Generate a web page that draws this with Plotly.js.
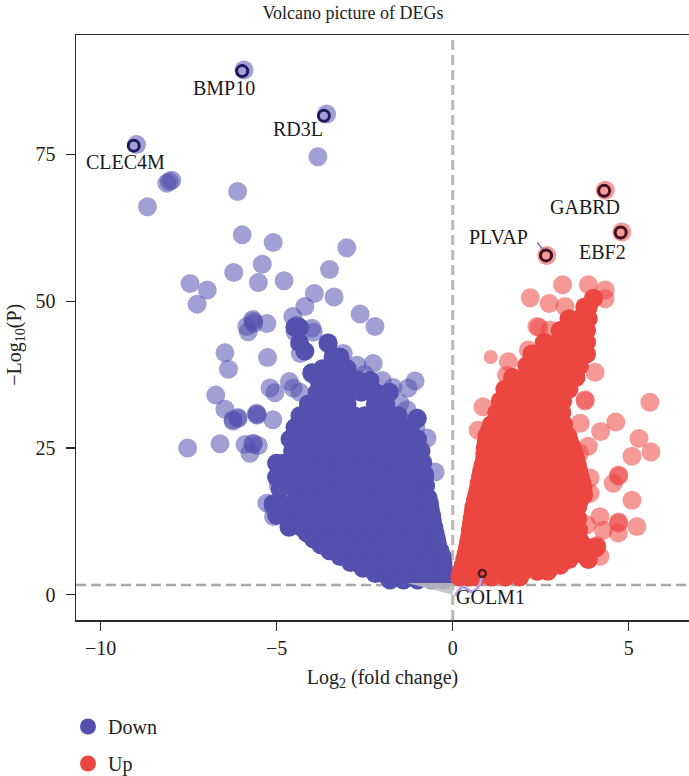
<!DOCTYPE html>
<html>
<head>
<meta charset="utf-8">
<script src="https://cdn.plot.ly/plotly-3.0.1.min.js"></script>
<style>html,body{margin:0;padding:0;background:#fff}#chart{width:689px;height:776px}</style>
</head>
<body>
<div id="chart"></div>
<script>
// Scattered, individually readable genes (log2 FC, -log10 P)
const downX = [-5.93,-3.58,-8.98,-3.83,-7.98,-8.12,-8.05,-8.67,-6.11,-5.98,-5.1,-3.01,-5.41,-6.22,-5.52,-4.79,-3.5,-7.46,-6.97,-7.26,-3.93,-3.37,-4.2,-2.63,-2.21,-4.54,-5.68,-5.28,-5.85,-4.43,-4.48,-4.48,-4,-5.81,-6.47,-6.37,-5.26,-6.73,-6.47,-6.24,-6.1,-5.57,-5.55,-5.11,-5.19,-5.05,-4.64,-4.53,-7.53,-6.61,-5.9,-5.67,-5.52,-5.76,-5.28,-5.1,-5.09,-5,-5,-4.95,-4.9,-3.54,-3.54,-4,-4,-1.01,-1.01,-1.07,-3.96,-3.11,-4.33,-2.26,-2.72,-1.7,-1.27,-1.5,-4.34,-0.73,-0.5,-5.66,-5.65,-6.24,-6.1,-5.57,-5.67,-2.5,-2.0,-1.55,-1.3,-1.05];
const downY = [89.4,81.9,76.7,74.6,70.6,70.1,70.4,66.1,68.7,61.3,60,59.1,56.3,54.9,53.2,53.5,55.4,53,51.9,49.5,51.3,50.7,49.1,47.8,45.7,47.4,46.9,46.2,45.7,45.9,45.6,44.8,45.4,44.8,41.2,38.4,40.4,34,31.6,29.8,30,30.9,30.6,29.8,35.2,34.4,36.3,35.2,25,25.7,25.6,25.8,25.4,24.1,15.6,15,13.3,22.4,20.1,18.5,15.2,42.9,42.7,37.8,37.6,30.1,30,36.4,44.7,41.1,41.1,39.4,39.1,35.3,35.2,32.6,34.5,26.7,20.9,46.6,46.2,29.6,30.2,30.7,25.6,37.5,36.5,30.5,31.5,28.5];
const upX = [2.67,4.33,4.8,2.2,3.12,3.85,4.33,4.33,2.74,3.19,2.39,2.45,2.76,1.58,2.15,1.53,4.04,3.76,3.76,5.6,4.63,4.2,3.62,5.29,0.86,0.72,3.85,5.63,5.09,4.71,4.71,4.56,5.09,4.18,4.71,4.71,5.23,4.28,4.7,4.09,4.09,4.09,4.18,3.81,3.9,3.9,3.6];
const upY = [57.8,68.9,61.8,50.6,52.8,52.8,51.9,50.4,49.6,49.1,45.7,45.5,45.1,39.7,41.7,37.4,37.9,33.2,33,32.8,29.4,27.8,29.2,26.6,32,28,25.3,24.3,23.6,20.4,20.2,19,16.1,13.3,12.4,12.2,11.6,11,10.5,8.2,8.4,8,6.5,11.9,17.3,19.9,24.1];
const upSmallX = [1.08];
const upSmallY = [40.5];

// The saturated mass of genes, listed by -log10 P band: [P band, [log2 FC ...]]
const downMass = [
 [2.5,[-1.78,-1.4,-1,-.6,-.27]],
 [3.6,[-2.2,-2,-1.6,-1.2,-.8,-.27]],
 [4.5,[-2.55,-2.2,-1.8,-1.4,-1,-.62,-.27]],
 [5.5,[-2.9,-2.6,-2.2,-1.8,-1.4,-1,-.6,-.28]],
 [6.5,[-3.2,-2.8,-2.4,-2,-1.6,-1.2,-.8,-.3]],
 [7.5,[-3.5,-3.1,-2.7,-2.3,-1.9,-1.5,-1.1,-.7,-.36]],
 [8.5,[-3.75,-3.35,-2.95,-2.55,-2.15,-1.75,-1.35,-.95,-.43]],
 [9.5,[-3.95,-3.55,-3.15,-2.75,-2.35,-1.95,-1.55,-1.15,-.75,-.46]],
 [10.5,[-4.14,-3.75,-3.35,-2.95,-2.55,-2.15,-1.75,-1.35,-.9,-.5]],
 [11.5,[-4.65,-4.3,-3.9,-3.5,-3.1,-2.7,-2.3,-1.9,-1.5,-1.1,-.54]],
 [12.5,[-4.42,-4,-3.6,-3.2,-2.8,-2.4,-2,-1.6,-1.2,-.85,-.58]],
 [13.5,[-5,-4.75,-4.4,-.6]],
 [14.5,[-4.42,-4.05,-3.65,-3.25,-2.85,-2.45,-2.05,-1.65,-1.25,-.9,-.64]],
 [15.5,[-5.1,-4.85,-4.45,-.66]],
 [16.5,[-4.42,-4,-3.6,-3.2,-2.8,-2.4,-2,-1.6,-1.2,-.9,-.7]],
 [18,[-4.9,-4.5]],
 [18.5,[-4.4,-4.05,-3.65,-3.25,-2.85,-2.45,-2.05,-1.65,-1.25,-.95,-.77]],
 [20,[-5,-4.8,-4.5,-.8]],
 [20.5,[-4.4,-4,-3.6,-3.2,-2.8,-2.4,-2,-1.6,-1.2,-.8]],
 [22.4,[-5,-4.8,-4.5]],
 [22.5,[-4.4,-4.05,-3.65,-3.25,-2.85,-2.45,-2.05,-1.65,-1.25,-.85]],
 [24.5,[-4.55,-4.1,-3.7,-3.3,-2.9,-2.5,-2.1,-1.7,-1.3,-.9]],
 [26.5,[-4.62,-4.2,-3.8,-3.4,-3,-2.6,-2.2,-1.8,-1.4,-1]],
 [28.5,[-4.48,-4.05,-3.65,-3.25,-2.85,-2.45,-2.05,-1.65,-1.2]],
 [30.5,[-4.34,-3.95,-3.6,-3.2,-2.8,-2.5,-2.2,-1.85,-1.55]],
 [32.5,[-4.1,-3.7,-3.35,-3,-2.2,-1.9]],
 [30,[-1.01]],
 [34.5,[-3.85,-3.4,-3,-2.6,-2.2,-1.8]],
 [36.5,[-3.8,-3.4,-3,-2.7,-2.35]],
 [38.5,[-3.7,-3.3,-3]],
 [37.8,[-4]],
 [40.5,[-3.4,-3.2]],
 [42.9,[-3.54,-4.35]],
 [41.5,[-4.2]],
 [45.5,[-4.48,-4.35]]
];
const upMass = [
 [3,[.2,.45,.7,1.1,1.5,1.9]],
 [4,[.25,.52,.8,1.2,1.6,2,2.4,2.7]],
 [5,[.3,.55,.75,1.15,1.55,1.95,2.35,2.75,3.05]],
 [6,[.34,.6,.85,1.25,1.65,2.05,2.45,2.85,3.3,3.85]],
 [7,[.38,.62,.85,1.25,1.65,2.05,2.45,2.85,3.25,3.6]],
 [8,[.42,.7,1.05,3.85,4.05]],
 [9,[.45,.72,.95,1.35,1.75,2.15,2.55,2.95,3.35,3.63]],
 [10,[.48,.8,1.15,1.55]],
 [11,[.5,.78,1,1.4,1.8,2.2,2.6,3,3.4,3.58]],
 [12,[.53,.85,1.2,1.6]],
 [13,[.55,.82,1.05,1.45,1.85,2.25,2.65,3.05,3.35,3.55]],
 [14,[.58,.9,1.25,1.65]],
 [15,[.6,.87,1.1,1.5,1.9,2.3,2.7,3.1,3.35,3.55]],
 [16,[.64,.98,1.3,1.7,3.6]],
 [17,[.68,.95,1.2,1.6,2,2.4,2.8,3.2,3.45,3.72]],
 [18,[.72,1.02,1.4,1.8,3.7]],
 [19,[.75,1,1.25,1.65,2.05,2.45,2.85,3.25,3.45,3.67]],
 [20,[.79,1.1,1.45,1.85,3.62]],
 [21,[.82,1.08,1.35,1.75,2.15,2.55,2.95,3.3,3.58]],
 [22,[.86,1.15,1.55,1.95,3.54]],
 [23,[.9,1.15,1.4,1.8,2.2,2.6,3,3.25,3.5]],
 [24,[.91,1.2,1.55,1.95,3.45]],
 [25,[.92,1.15,1.35,1.75,2.15,2.55,2.95,3.2,3.4]],
 [26,[.95,1.25,1.6,2,3.32]],
 [27,[.97,1.2,1.4,1.8,2.2,2.6,3,3.27]],
 [28,[1.05,1.3,1.65,2.05]],
 [29,[1.1,1.4,1.65,2.05,2.45,2.85,3.15]],
 [31,[1.25,1.6,2,2.4,2.8,3.1]],
 [33,[1.35,1.75,2.15,2.55,2.95,3.12]],
 [35,[1.48,1.9,2.3,2.7,3,3.3]],
 [37,[1.7,2.1,2.5,2.9,3.2,3.5]],
 [39,[2.1,2.5,2.9,3.3,3.6]],
 [41,[2.25,2.65,3.05,3.45,3.8]],
 [43,[2.6,3,3.4,3.8]],
 [45,[3.05,3.45,3.8]],
 [47,[3.3,3.6,3.85]],
 [49,[3.75,3.85]],
 [50.5,[4]]
];

// Non-significant wedge under the threshold
const nsX = [-1.3,0,0];
const nsY = [2,2,0];

// Labelled genes
const labelNames = ["BMP10","RD3L","CLEC4M","GABRD","PLVAP","EBF2","GOLM1"];
const labelTextX = [-6.5,-4.4,-9.3,3.75,1.3,4.26,1.06];
const labelTextY = [86.4,79.3,73.8,66,61,58.3,-0.4];
const downRingX = [-5.98,-3.66,-9.06];
const downRingY = [89.2,81.6,76.5];
const upRingX = [4.3,4.77,2.65];
const upRingY = [68.8,61.7,57.8];
const smallRingX = [0.84];
const smallRingY = [3.6];
const plvapLinkX = [2.4,2.62];
const plvapLinkY = [60,58.4];
const golmLinkX = [0.07,0.29,0.55,0.72,0.83];
const golmLinkY = [-0.2,1.3,0.5,1.3,2.9];

const xTicks = [-10,-5,0,5];
const yTicks = [0,25,50,75];
const pThreshold = 1.65;

const BLUE = "#5350ae", RED = "#ec4641";
const FONT = "Liberation Serif, Times New Roman, serif";
const INK = "#222";

function flatten(rows){
  const x = [], y = [];
  rows.forEach(r => r[1].forEach(v => { x.push(v); y.push(r[0]); }));
  return {x, y};
}
const dm = flatten(downMass), um = flatten(upMass);

const MS = 19;
const data = [
 {type:"scatter",mode:"markers",x:downX,y:downY,name:"Down",legendgroup:"d",showlegend:false,hoverinfo:"skip",
  marker:{color:BLUE,size:MS,opacity:0.55,line:{width:0}}},
 {type:"scatter",mode:"markers",x:dm.x,y:dm.y,name:"Down",legendgroup:"d",hoverinfo:"skip",
  marker:{color:BLUE,size:MS,line:{width:0}}},
 {type:"scatter",mode:"markers",x:upX,y:upY,name:"Up",legendgroup:"u",showlegend:false,hoverinfo:"skip",
  marker:{color:RED,size:MS,opacity:0.55,line:{width:0}}},
 {type:"scatter",mode:"markers",x:upSmallX,y:upSmallY,name:"Up",legendgroup:"u",showlegend:false,hoverinfo:"skip",
  marker:{color:RED,size:14,opacity:0.55,line:{width:0}}},
 {type:"scatter",mode:"markers",x:um.x,y:um.y,name:"Up",legendgroup:"u",hoverinfo:"skip",
  marker:{color:RED,size:MS,line:{width:0}}},
 {type:"scatter",mode:"lines",x:nsX,y:nsY,fill:"toself",fillcolor:"rgba(190,190,190,0.85)",line:{width:0},showlegend:false,hoverinfo:"skip"},
 {type:"scatter",mode:"lines",x:golmLinkX,y:golmLinkY,line:{color:"#b79de6",width:3,shape:"spline"},showlegend:false,hoverinfo:"skip"},
 {type:"scatter",mode:"lines",x:plvapLinkX,y:plvapLinkY,line:{color:"#6a5fc4",width:1.2},showlegend:false,hoverinfo:"skip"},
 {type:"scatter",mode:"markers",x:downRingX,y:downRingY,showlegend:false,hoverinfo:"skip",
  marker:{color:"rgba(0,0,0,0)",size:11,line:{color:"#1d1a5c",width:3}}},
 {type:"scatter",mode:"markers",x:upRingX,y:upRingY,showlegend:false,hoverinfo:"skip",
  marker:{color:"rgba(0,0,0,0)",size:11,line:{color:"#3c1020",width:3}}},
 {type:"scatter",mode:"markers",x:smallRingX,y:smallRingY,showlegend:false,hoverinfo:"skip",
  marker:{color:"rgba(0,0,0,0)",size:7,line:{color:"#5a1a1a",width:2.5}}}
];

const annotations = labelNames.map((t,i)=>({
  text:t,x:labelTextX[i],y:labelTextY[i],xref:"x",yref:"y",showarrow:false,
  xanchor:"center",yanchor:"middle",font:{family:FONT,size:20,color:"#1a1a1a"}
}));
annotations.push({text:"−Log<sub>10</sub>(P)",xref:"paper",yref:"paper",x:-0.1,y:0.47,
  showarrow:false,textangle:-90,xanchor:"center",yanchor:"middle",font:{family:FONT,size:20,color:INK}});

const axisBase = {
  showgrid:false,zeroline:false,showline:true,linecolor:"#2a2a2a",linewidth:1.5,
  ticks:"outside",ticklen:9,tickwidth:1.3,tickcolor:"#2a2a2a",
  tickfont:{family:FONT,size:20,color:INK}
};

const layout = {
  width:689,height:776,paper_bgcolor:"#fff",plot_bgcolor:"#fff",
  margin:{l:76,r:0,t:35,b:156,pad:0,autoexpand:false},
  font:{family:FONT,size:20,color:INK},
  title:{text:"Volcano picture of DEGs",x:353/689,xanchor:"center",y:1-13/776,yanchor:"middle",font:{family:FONT,size:18,color:INK}},
  xaxis:Object.assign({},axisBase,{range:[-10.7,6.71],tickmode:"array",tickvals:xTicks,ticktext:["−10","−5","0","5"],mirror:true,
    title:{text:"Log<sub>2</sub> (fold change)",standoff:12,font:{family:FONT,size:20,color:INK}}}),
  yaxis:Object.assign({},axisBase,{range:[-4.31,95.35],tickmode:"array",tickvals:yTicks,ticktext:["0","25","50","75"],ticklabelstandoff:6}),
  shapes:[
   {type:"line",xref:"x",yref:"paper",x0:0,x1:0,y0:0,y1:1,layer:"below",line:{color:"#b8b8b8",width:3,dash:"10px,5px"}},
   {type:"line",xref:"paper",yref:"y",x0:0,x1:1,y0:pThreshold,y1:pThreshold,layer:"below",line:{color:"#a8a8a8",width:2.5,dash:"10px,5px"}}
  ],
  annotations,
  legend:{xref:"container",yref:"container",x:68/689,y:1-707/776,xanchor:"left",yanchor:"top",tracegroupgap:8,itemsizing:"trace",
    font:{family:FONT,size:20,color:INK},bgcolor:"rgba(0,0,0,0)"},
  showlegend:true,hovermode:false
};

Plotly.newPlot("chart",data,layout,{displayModeBar:false,staticPlot:true});
</script>
</body>
</html>
